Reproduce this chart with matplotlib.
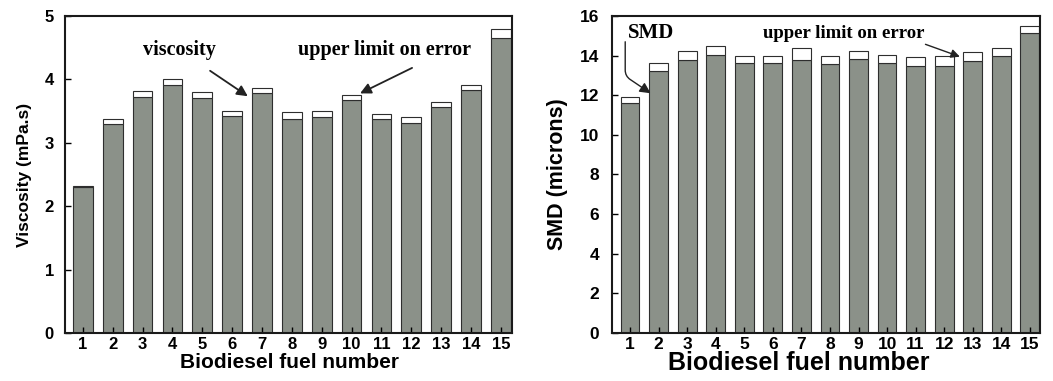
import numpy as np
import matplotlib
matplotlib.use("Agg")
import matplotlib.pyplot as plt

# data
fuel = list(range(1, 16))
visc = [2.30, 3.30, 3.73, 3.91, 3.71, 3.42, 3.78, 3.38, 3.41, 3.67, 3.37, 3.32, 3.57, 3.83, 4.66]
visc_up = [2.32, 3.38, 3.81, 4.01, 3.80, 3.50, 3.87, 3.48, 3.50, 3.76, 3.45, 3.41, 3.65, 3.91, 4.79]
smd = [11.6, 13.2, 13.8, 14.05, 13.63, 13.63, 13.8, 13.6, 13.83, 13.63, 13.46, 13.5, 13.72, 13.97, 15.12]
smd_up = [11.9, 13.63, 14.22, 14.5, 14.0, 14.0, 14.36, 14.0, 14.22, 14.05, 13.94, 13.97, 14.17, 14.4, 15.5]

BAR = "#8b9189"
EDGE = "#2e2e2e"
SANS = "Liberation Sans"
SERIF = "Liberation Serif"

fig = plt.figure(figsize=(10.53, 3.81), dpi=100)
ax1 = fig.add_axes([0.0617, 0.126, 0.4245, 0.832])
ax2 = fig.add_axes([0.581, 0.126, 0.4065, 0.832])


def draw_bars(ax, vals, ups, tsize, pad):
    x = np.array(fuel)
    v = np.array(vals)
    u = np.array(ups)
    ax.bar(x, v, width=0.66, color=BAR, edgecolor=EDGE, linewidth=0.8)
    ax.bar(x, u - v, bottom=v, width=0.66, color="white", edgecolor=EDGE, linewidth=0.8)
    for s in ax.spines.values():
        s.set_linewidth(1.5)
        s.set_color("#1a1a1a")
    ax.tick_params(direction="in", length=4, width=1)
    ax.tick_params(axis="y", pad=pad)
    ax.tick_params(axis="x", pad=3)
    ax.set_xticks(fuel)
    for lab in ax.get_xticklabels() + ax.get_yticklabels():
        lab.set_fontfamily(SANS)
        lab.set_fontweight("bold")
        lab.set_fontsize(tsize)


# left panel: viscosity
ax1.set_xlim(0.4, 15.37)
ax1.set_ylim(0, 5)
ax1.set_yticks(range(0, 6))
draw_bars(ax1, visc, visc_up, 12, 8)
ax1.set_xlabel("Biodiesel fuel number", family=SANS, weight="bold", fontsize=15, va="center")
ax1.xaxis.set_label_coords(0.503, -0.092)
ax1.set_ylabel("Viscosity (mPa.s)", family=SANS, weight="bold", fontsize=12.5, va="center")
ax1.yaxis.set_label_coords(-0.09, 0.5)
arr = dict(arrowstyle="-|>", color="#222222", lw=1.3, mutation_scale=16)
ax1.annotate("viscosity", xy=(6.6, 3.71), xytext=(4.24, 4.46), ha="center", va="center",
             family=SERIF, weight="bold", fontsize=14.5,
             arrowprops=dict(arr, shrinkA=10))
ax1.annotate("upper limit on error", xy=(10.2, 3.76), xytext=(11.1, 4.46), ha="center", va="center",
             family=SERIF, weight="bold", fontsize=14.5,
             arrowprops=dict(arr, shrinkA=8, relpos=(0.75, 0)))

# right panel: SMD
ax2.set_xlim(0.36, 15.35)
ax2.set_ylim(0, 16)
ax2.set_yticks(range(0, 17, 2))
draw_bars(ax2, smd, smd_up, 12.5, 9)
ax2.set_xlabel("Biodiesel fuel number", family=SANS, weight="bold", fontsize=18, va="center")
ax2.xaxis.set_label_coords(0.437, -0.095)
ax2.set_ylabel("SMD (microns)", family=SANS, weight="bold", fontsize=15.5, va="center")
ax2.yaxis.set_label_coords(-0.126, 0.5)
ax2.text(1.75, 15.14, "SMD", ha="center", va="center", family=SERIF, weight="bold", fontsize=15)
ax2.annotate("", xy=(1.72, 12.1), xytext=(0.83, 14.7),
             arrowprops=dict(arrowstyle="-|>", color="#222222", lw=1.0, mutation_scale=16,
                             shrinkA=0, shrinkB=0,
                             connectionstyle="angle,angleA=-90,angleB=-34,rad=6"))
ax2.annotate("upper limit on error", xy=(12.64, 13.9), xytext=(8.48, 15.14), ha="center", va="center",
             family=SERIF, weight="bold", fontsize=13.5,
             arrowprops=dict(arrowstyle="-|>", color="#222222", lw=1.0, mutation_scale=13,
                             relpos=(0.9, 0.2), shrinkA=0))

fig.savefig("out.png", dpi=100)
